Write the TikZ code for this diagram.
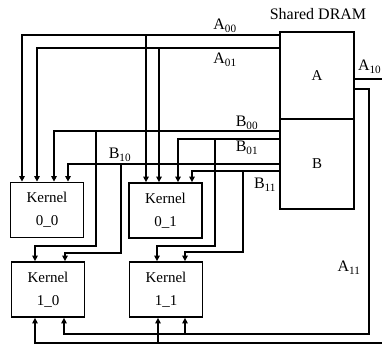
\documentclass[tikz,border=0pt]{standalone}
\usepackage{fontspec}
\setmainfont{Liberation Serif}
\usetikzlibrary{arrows.meta}
\begin{document}
\begin{tikzpicture}[x=1pt,y=-1pt,
  every node/.style={font=\fontsize{15}{23}\selectfont},
  wire/.style={line width=1.6pt},
  arr/.style={wire,-{Triangle[length=5.5pt,width=5.5pt]}},
  kbox/.style={draw,line width=1.8pt,minimum width=73pt,minimum height=55pt,align=center,inner sep=0pt},
  mem/.style={draw,line width=1.8pt,inner sep=0pt,minimum width=74pt},
  lbl/.style={inner sep=0pt,font=\fontsize{16}{19}\selectfont}]
\useasboundingbox (0,0) rectangle (382,345);
\clip (0,0) rectangle (382,345);
% memory
\node[lbl] (dram) at (318,14) {Shared DRAM};
\node[mem,minimum height=87pt] (A) at (317,75.5) {A};
\node[mem,minimum height=90pt] (B) at (317,164) {B};
% kernels
\node[kbox] (K00) at (47,210) {Kernel\\0\_0};
\node[kbox] (K01) at (165.5,210.5) {Kernel\\0\_1};
\node[kbox] (K10) at (48,289.5) {Kernel\\1\_0};
\node[kbox] (K11) at (166,289.5) {Kernel\\1\_1};
% junctions
\coordinate (j00) at (146,35);
\coordinate (j01) at (159,48);
\coordinate (jb00) at (96,131);
\coordinate (jb10) at (121,164);
\coordinate (jb01) at (215,139);
\coordinate (jb11) at (243,171);
\coordinate (a10out) at (392,79);
\coordinate (a10in) at (392,343);
\coordinate (ja10) at (158,343);
\coordinate (a11c) at (369,334);
\coordinate (ja11) at (185,334);
% A00, A01
\draw[arr] (A.west |- j00) -| (K00.north -| 22,0);
\draw[arr] (j00) -- (j00 |- K01.north);
\draw[arr] (A.west |- j01) -| (K00.north -| 37,0);
\draw[arr] (j01) -- (j01 |- K01.north);
% B00, B10 -> K00, K10
\draw[arr] (B.west |- jb00) -| (K00.north -| 54,0);
\draw[arr] (jb00) -- (96,246) -| (K10.north -| 35,0);
\draw[arr] (B.west |- jb10) -| (K00.north -| 68,0);
\draw[arr] (jb10) -- (121,253) -| (K10.north -| 65,0);
% B01, B11 -> K01, K11
\draw[arr] (B.west |- jb01) -| (K01.north -| 178,0);
\draw[arr] (jb01) -- (215,246) -| (K11.north -| 157,0);
\draw[arr] (B.west |- jb11) -| (K01.north -| 192,0);
\draw[arr] (jb11) -- (243,252) -| (K11.north -| 185,0);
% A10
\draw[wire] (A.east |- a10out) -- (a10out);
\draw[arr] (a10in) -| (K10.south -| 35,0);
\draw[arr] (ja10) -- (ja10 |- K11.south);
% A11
\draw[arr] (A.east |- 0,89) -| (a11c) -| (K10.south -| 64,0);
\draw[arr] (ja11) -- (ja11 |- K11.south);
% labels
\node[lbl] (la00) at (225,26) {A\textsubscript{00}};
\node[lbl] (la01) at (225,60) {A\textsubscript{01}};
\node[lbl] (lb00) at (247,123) {B\textsubscript{00}};
\node[lbl] (lb01) at (247,148) {B\textsubscript{01}};
\node[lbl] (lb10) at (120,155) {B\textsubscript{10}};
\node[lbl] (lb11) at (265,185) {B\textsubscript{11}};
\node[lbl,anchor=east] (la10) at (381.5,67) {A\textsubscript{10}};
\node[lbl] (la11) at (349,268) {A\textsubscript{11}};
\end{tikzpicture}
\end{document}
